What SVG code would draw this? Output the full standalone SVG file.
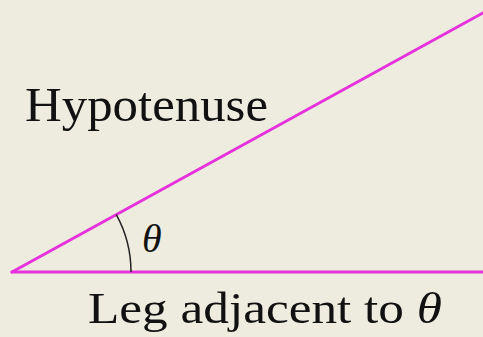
<svg xmlns="http://www.w3.org/2000/svg" width="483" height="337" viewBox="0 0 483 337">
<style>
.leg{stroke:#e632dc;stroke-width:3;fill:none;stroke-linecap:round}
.lbl{font-family:"Liberation Serif","Times New Roman",serif;fill:#111}
.arc{stroke:#222;stroke-width:1.5;fill:none}
</style>
<rect width="483" height="337" fill="#edecdf"/>
<g id="connectors">
<line class="leg" x1="12" y1="272" x2="490" y2="9"/>
<line class="leg" x1="12" y1="272" x2="490" y2="272"/>
<path class="arc" d="M 116.3 214.6 A 119 119 0 0 1 131 272"/>
</g>
<g id="hypotenuse-label"><text class="lbl" x="25" y="121" font-size="48" textLength="243" lengthAdjust="spacingAndGlyphs">Hypotenuse</text></g>
<g id="theta-label"><text class="lbl" x="142" y="252" font-size="40" font-style="italic">θ</text></g>
<g id="leg-label"><text class="lbl" x="88" y="323" font-size="45" textLength="354" lengthAdjust="spacingAndGlyphs">Leg adjacent to <tspan font-style="italic">θ</tspan></text></g>
</svg>
